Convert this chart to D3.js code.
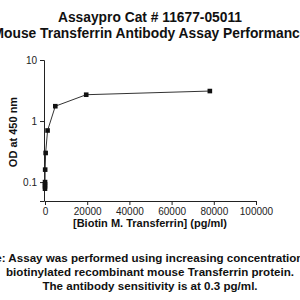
<!DOCTYPE html>
<html>
<head>
<meta charset="utf-8">
<script src="https://cdn.jsdelivr.net/npm/d3@7"></script>
<style>
  body { margin: 0; background: #fff; }
  svg { display: block; }
</style>
</head>
<body>
<div id="chart"></div>
<script>
// chart data
const conc = [0.3, 1.2, 4.8, 19, 76, 305, 1221, 4883, 19531, 78125];
const od   = [0.078, 0.085, 0.092, 0.1, 0.16, 0.30, 0.70, 1.75, 2.7, 3.1];
const xTicks = [0, 20000, 40000, 60000, 80000, 100000];
const yTicks = [0.1, 1, 10];
const titleLines = ["Assaypro Cat # 11677-05011", "Mouse Transferrin Antibody Assay Performance"];
const noteLines = [
  "Note: Assay was performed using increasing concentrations of",
  "biotinylated recombinant mouse Transferrin protein.",
  "The antibody sensitivity is at 0.3 pg/ml."
];

const W = 300, H = 300;
const FONT = "'Liberation Sans', Arial, sans-serif";

const svg = d3.select("#chart").append("svg")
  .attr("width", W).attr("height", H);

const x = d3.scaleLinear().domain([0, 100000]).range([45, 256]);
const y = d3.scaleLog().domain([0.049, 10]).range([201, 60]);

// titles
svg.selectAll("text.title").data(titleLines).join("text")
  .attr("x", 150).attr("y", (d, i) => 22 + i * 15.5)
  .attr("text-anchor", "middle").attr("fill", "#111")
  .style("font-family", FONT).style("font-size", "13.8px").style("font-weight", "bold")
  .text(d => d);

// axes
const AX = sel => sel
  .call(a => a.select(".domain").attr("stroke", "#222"))
  .call(a => a.selectAll(".tick line").attr("stroke", "#222"))
  .call(a => a.selectAll("text").attr("fill", "#222")
    .style("font-family", FONT).style("font-size", "10px"));

svg.append("g").attr("transform", `translate(0,${y.range()[0]})`)
  .call(d3.axisBottom(x).tickValues(xTicks).tickFormat(d3.format("d")).tickSizeOuter(0).tickSize(4))
  .call(AX);

svg.append("g").attr("transform", `translate(${x.range()[0] - 1},0)`)
  .call(d3.axisLeft(y).tickValues(yTicks).tickFormat(d => d).tickSizeOuter(0).tickSize(4))
  .call(AX);

// axis labels
svg.append("text").attr("x", 150).attr("y", 227)
  .attr("text-anchor", "middle").attr("fill", "#111")
  .style("font-family", FONT).style("font-size", "11px").style("font-weight", "bold")
  .text("[Biotin M. Transferrin] (pg/ml)");
svg.append("text").attr("transform", "rotate(-90)").attr("x", -132).attr("y", 17)
  .attr("text-anchor", "middle").attr("fill", "#111")
  .style("font-family", FONT).style("font-size", "11px").style("font-weight", "bold")
  .text("OD at 450 nm");

// line + markers
const pts = conc.map((c, i) => ({ c, v: od[i] }));
svg.append("path").datum(pts)
  .attr("fill", "none").attr("stroke", "#333").attr("stroke-width", 1)
  .attr("d", d3.line().x(d => x(d.c)).y(d => y(d.v)));
svg.append("g").selectAll("rect").data(pts).join("rect")
  .attr("x", d => x(d.c) - 2.3).attr("y", d => y(d.v) - 2.3)
  .attr("width", 4.6).attr("height", 4.6).attr("fill", "#111");

// note (first line is clipped at both edges, as in the original)
svg.selectAll("text.note").data(noteLines).join("text")
  .attr("x", 150).attr("y", (d, i) => 262 + i * 14.2)
  .attr("text-anchor", "middle").attr("fill", "#111")
  .style("font-family", FONT).style("font-size", "11.6px").style("font-weight", "bold")
  .text(d => d);
</script>
</body>
</html>
